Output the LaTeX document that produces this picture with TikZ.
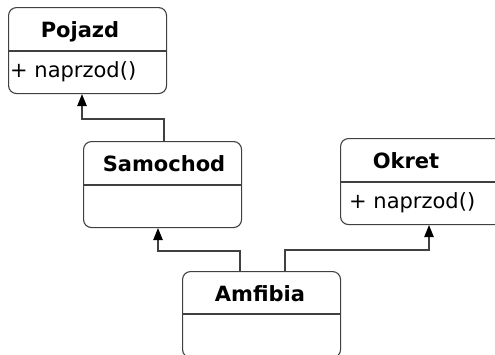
\documentclass[tikz,border=0pt]{standalone}
\usepackage{fontspec}
\setmainfont{DejaVu Sans}
\usetikzlibrary{calc,arrows.meta}
\definecolor{linec}{HTML}{404040}
\begin{document}
\begin{tikzpicture}[x=1pt,y=-1pt,
  cls/.style={draw=linec, line width=1.1pt, rounded corners=8pt, minimum width=158pt, minimum height=86pt, inner sep=0pt, anchor=north west},
  ttl/.style={font=\fontsize{21}{24}\selectfont\bfseries, anchor=base, inner sep=0pt},
  attr/.style={font=\fontsize{21}{24}\selectfont, anchor=base west, inner sep=0pt},
  divl/.style={draw=linec, line width=1.1pt},
  gen/.style={draw=linec, line width=1.1pt, -{Triangle[length=12pt,width=9.5pt,color=black,fill=black]}}]
\useasboundingbox (0,0) rectangle (495,354);
\clip (0,0) rectangle (495,354);
% Pojazd
\node[cls] (pojazd) at (8,7) {};
\draw[divl] ($(pojazd.north west)+(0,44)$) -- ($(pojazd.north east)+(0,44)$);
\node[ttl] (pojazdT) at ($(pojazd.north west)+(72,30)$) {Pojazd};
\node[attr] (pojazdA) at ($(pojazd.north west)+(2,70)$) {+ naprzod()};
% Samochod
\node[cls] (samochod) at (83,141) {};
\draw[divl] ($(samochod.north west)+(0,44)$) -- ($(samochod.north east)+(0,44)$);
\node[ttl] (samochodT) at ($(samochod.north west)+(81,30)$) {Samochod};
% Okret
\node[cls, minimum width=162pt] (okret) at (340,138) {};
\draw[divl] ($(okret.north west)+(0,44)$) -- ($(okret.north east)+(0,44)$);
\node[ttl] (okretT) at ($(okret.north west)+(66,30)$) {Okret};
\node[attr] (okretA) at ($(okret.north west)+(9,70)$) {+ naprzod()};
% Amfibia
\node[cls] (amfibia) at (182,271) {};
\draw[divl] ($(amfibia.north west)+(0,43)$) -- ($(amfibia.north east)+(0,43)$);
\node[ttl] (amfibiaT) at ($(amfibia.north west)+(78,30)$) {Amfibia};
% generalizations
\draw[gen] ($(samochod.north west)+(81,0)$) -- ++(0,-22) -| ($(pojazd.south west)+(74,0)$);
\draw[gen] ($(amfibia.north west)+(58,0)$) -- ++(0,-20) -| ($(samochod.south west)+(75,0)$);
\draw[gen] ($(amfibia.north west)+(103,0)$) -- ++(0,-21) -| ($(okret.south west)+(89,0)$);
\end{tikzpicture}
\end{document}
